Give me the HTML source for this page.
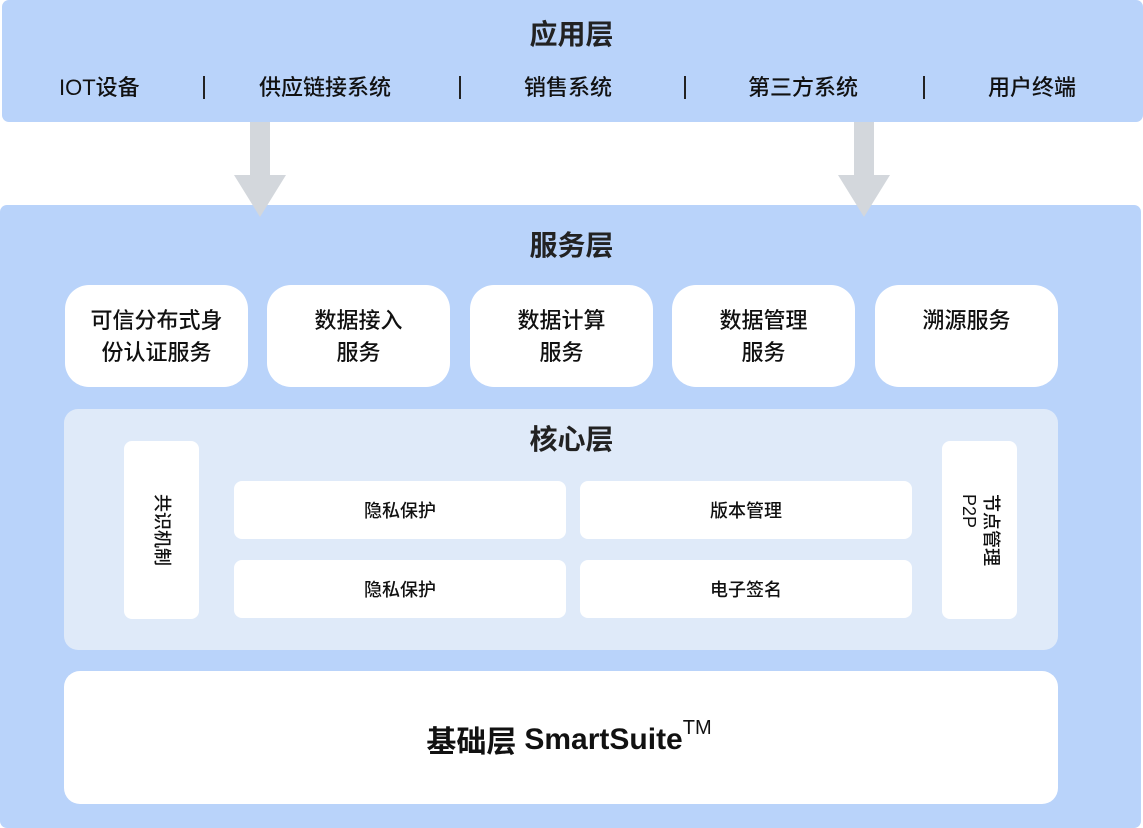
<!DOCTYPE html>
<html><head><meta charset="utf-8"><style>
*{margin:0;padding:0;box-sizing:border-box}
body{width:1143px;height:828px;position:relative;background:#fff;font-family:"Liberation Sans","Noto Sans CJK SC",sans-serif;color:#111;overflow:hidden}
.a{position:absolute}
.c{display:flex;align-items:center;justify-content:center;text-align:center}
.top{left:2px;top:0;width:1141px;height:122px;background:#b9d3fa;border-radius:7px}
.svc{left:0;top:205px;width:1141px;height:623px;background:#b9d3fa;border-radius:7px}
.t{font-size:28px;font-weight:bold;color:#222}
.it{top:74px;font-size:22px;height:28px;line-height:28px;white-space:nowrap;font-weight:500}
.sep{top:76px;width:2px;height:23px;background:#222}
.sb{top:285px;width:183px;height:102px;background:#fff;border-radius:24px;font-size:22px;line-height:32px;align-items:flex-start;padding-top:20px;font-weight:500}
.core{left:64px;top:409px;width:994px;height:241px;background:#dfeaf9;border-radius:14px}
.ib{width:332px;height:58px;background:#fff;border-radius:8px;font-size:18px;font-weight:500}
.vb{top:441px;width:75px;height:178px;background:#fff;border-radius:8px}
.vt{font-size:18px;line-height:22px;transform:rotate(90deg);white-space:nowrap;text-align:left;font-weight:500}
</style></head><body>
<div class="a top"></div>
<div class="a t c" style="left:0;width:1143px;top:14px;height:38px">应用层</div>
<div class="a it" style="left:59px">IOT设备</div>
<div class="a sep" style="left:203px"></div>
<div class="a it" style="left:259px">供应链接系统</div>
<div class="a sep" style="left:459px"></div>
<div class="a it" style="left:524px">销售系统</div>
<div class="a sep" style="left:684px"></div>
<div class="a it" style="left:748px">第三方系统</div>
<div class="a sep" style="left:923px"></div>
<div class="a it" style="left:988px">用户终端</div>
<div class="a svc"></div>
<svg class="a" style="left:0;top:0" width="1143" height="230">
<polygon points="250,122 270,122 270,175 286,175 260,217 234,175 250,175" fill="#d3d7dc"/>
<polygon points="854,122 874,122 874,175 890,175 864,217 838,175 854,175" fill="#d3d7dc"/>
</svg>
<div class="a t c" style="left:0;width:1143px;top:225px;height:38px">服务层</div>
<div class="a sb c" style="left:65px">可信分布式身<br>份认证服务</div>
<div class="a sb c" style="left:267px">数据接入<br>服务</div>
<div class="a sb c" style="left:470px">数据计算<br>服务</div>
<div class="a sb c" style="left:672px">数据管理<br>服务</div>
<div class="a sb c" style="left:875px">溯源服务</div>
<div class="a core"></div>
<div class="a t c" style="left:0;width:1143px;top:419px;height:38px">核心层</div>
<div class="a vb c" style="left:124px"><div class="vt">共识机制</div></div>
<div class="a vb c" style="left:942px"><div class="vt">节点管理<br>P2P</div></div>
<div class="a ib c" style="left:234px;top:481px">隐私保护</div>
<div class="a ib c" style="left:580px;top:481px">版本管理</div>
<div class="a ib c" style="left:234px;top:560px">隐私保护</div>
<div class="a ib c" style="left:580px;top:560px">电子签名</div>
<div class="a" style="left:64px;top:671px;width:994px;height:133px;background:#fff;border-radius:16px"></div>
<div class="a c" style="left:0;width:1138px;top:718px;height:42px;font-size:30px;font-weight:bold">基础层 <span style="margin-left:8px">SmartSuite<sup style="font-size:20px;font-weight:normal;position:relative;top:-4px">TM</sup></span></div>
</body></html>
